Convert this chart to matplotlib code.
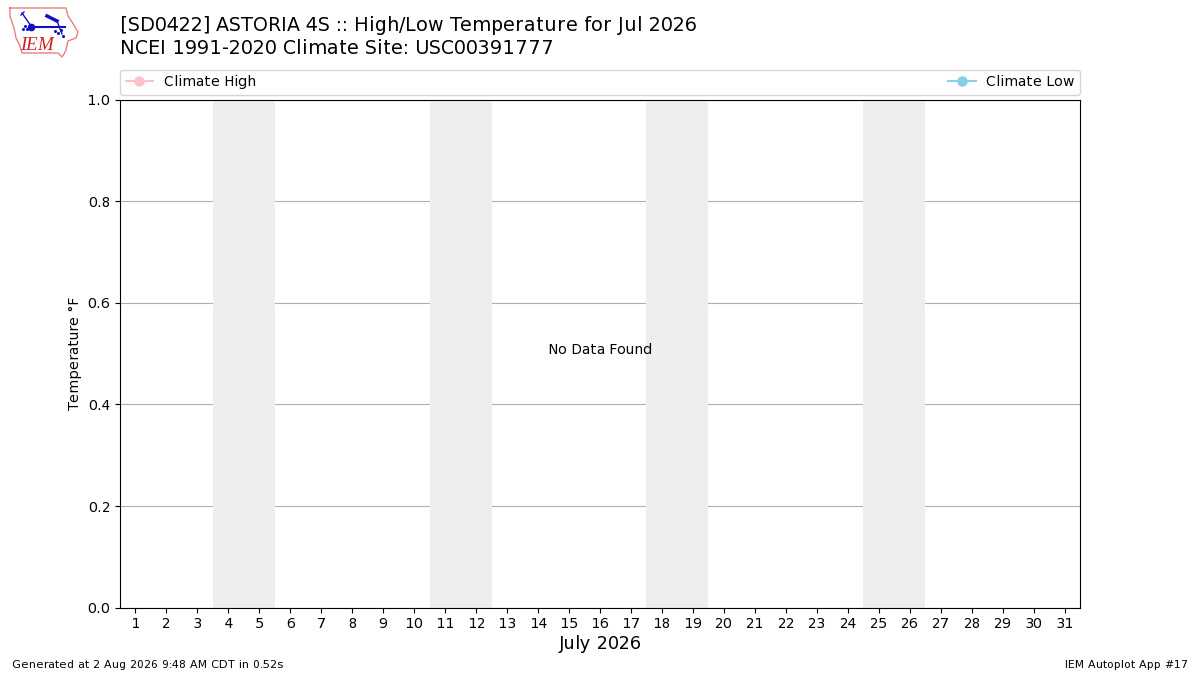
#!/usr/bin/env python3
import matplotlib
matplotlib.use("Agg")
import matplotlib.pyplot as plt
from matplotlib.lines import Line2D

# no observations for this month, only the day axis and weekend shading
DAYS = list(range(1, 32))
WEEKEND_STARTS = [4, 11, 18, 25]
Y_TICKS = [0.0, 0.2, 0.4, 0.6, 0.8, 1.0]
LEGEND_LABELS = ["Climate High", "Climate Low"]
LEGEND_COLORS = ["pink", "skyblue"]

WIDTH = 1200
HEIGHT = 675

plt.rcParams["text.hinting"] = "auto"
plt.rcParams["text.hinting_factor"] = 1

fig = plt.figure(figsize=(12, 6.75), dpi=100)
ax = fig.add_axes([120 / WIDTH, 1 - 607.6 / HEIGHT, 960 / WIDTH, 507.8 / HEIGHT])

for start in WEEKEND_STARTS:
    ax.axvspan(start - 0.5, start + 1.5, color="#EEEEEE", lw=0, zorder=1)

ax.grid(True, axis="y", color="#B0B0B0", lw=0.8, zorder=2)
ax.set_axisbelow(True)
ax.set_xlim(0.5, 31.5)
ax.set_ylim(0, 1)
ax.set_xticks(DAYS)
ax.set_yticks(Y_TICKS)
ax.tick_params(labelsize=10)
ax.set_xlabel("July 2026", fontsize=13, labelpad=3)
ax.set_ylabel("Temperature \N{DEGREE SIGN}F", fontsize=9.8)

ax.text(0.5, 0.5, "No Data Found", transform=ax.transAxes, ha="center", va="baseline", fontsize=10)

handles = [Line2D([], [], color=c, marker="o", lw=1.5, ms=6.5) for c in LEGEND_COLORS]
ax.legend(handles, LEGEND_LABELS, ncol=2, mode="expand", loc="lower left",
          bbox_to_anchor=(0, 1.01, 1, 0.05), borderaxespad=0, fontsize=9.9)

fig.text(120 / WIDTH, 1 - 25.5 / HEIGHT, "[SD0422] ASTORIA 4S :: High/Low Temperature for Jul 2026",
         fontsize=13.7, ha="left", va="center")
fig.text(120 / WIDTH, 1 - 48.5 / HEIGHT, "NCEI 1991-2020 Climate Site: USC00391777",
         fontsize=13.7, ha="left", va="center")

fig.text(12 / WIDTH, 1 - 665 / HEIGHT, "Generated at 2 Aug 2026 9:48 AM CDT in 0.52s",
         fontsize=8, ha="left", va="center")
fig.text(1188 / WIDTH, 1 - 665 / HEIGHT, "IEM Autoplot App #17",
         fontsize=8, ha="right", va="center")

# logo, drawn in pixel coordinates
logo = fig.add_axes([0, 1 - 60 / HEIGHT, 90 / WIDTH, 60 / HEIGHT])
logo.set_xlim(0, 90)
logo.set_ylim(60, 0)
logo.axis("off")
logo.plot([10, 66, 68, 72, 78, 76, 68, 66, 64, 62, 58, 22, 20, 16, 14, 10, 10],
          [8, 8, 16, 22, 32, 38, 41, 50, 54, 57, 53, 53, 46, 38, 28, 16, 8],
          color="#E88080", lw=1)
logo.plot([22, 31], [13, 26], color="#1010C0", lw=1)
logo.plot([21, 24], [15, 12], color="#1010C0", lw=1)
logo.plot([31, 65], [27, 27], color="#1010C0", lw=1.5)
logo.plot([31], [27], color="#1010C0", marker="o", ms=4.5)
logo.plot([47, 57], [16, 21], color="#1010C0", lw=2.5)
logo.plot([57, 62], [21, 34], color="#1010C0", lw=1)
logo.plot([55, 58, 61, 63], [31, 33, 30, 36], color="#1010C0", ls="none", marker="o", ms=1.2)
logo.plot([23, 25, 27], [29, 26, 29], color="#1010C0", ls="none", marker="o", ms=1.2)
logo.text(37.5, 45, "IEM", color="#D02020", fontsize=14, family="Liberation Serif",
          style="italic", ha="center", va="center")

fig.savefig("out.png", dpi=100)
